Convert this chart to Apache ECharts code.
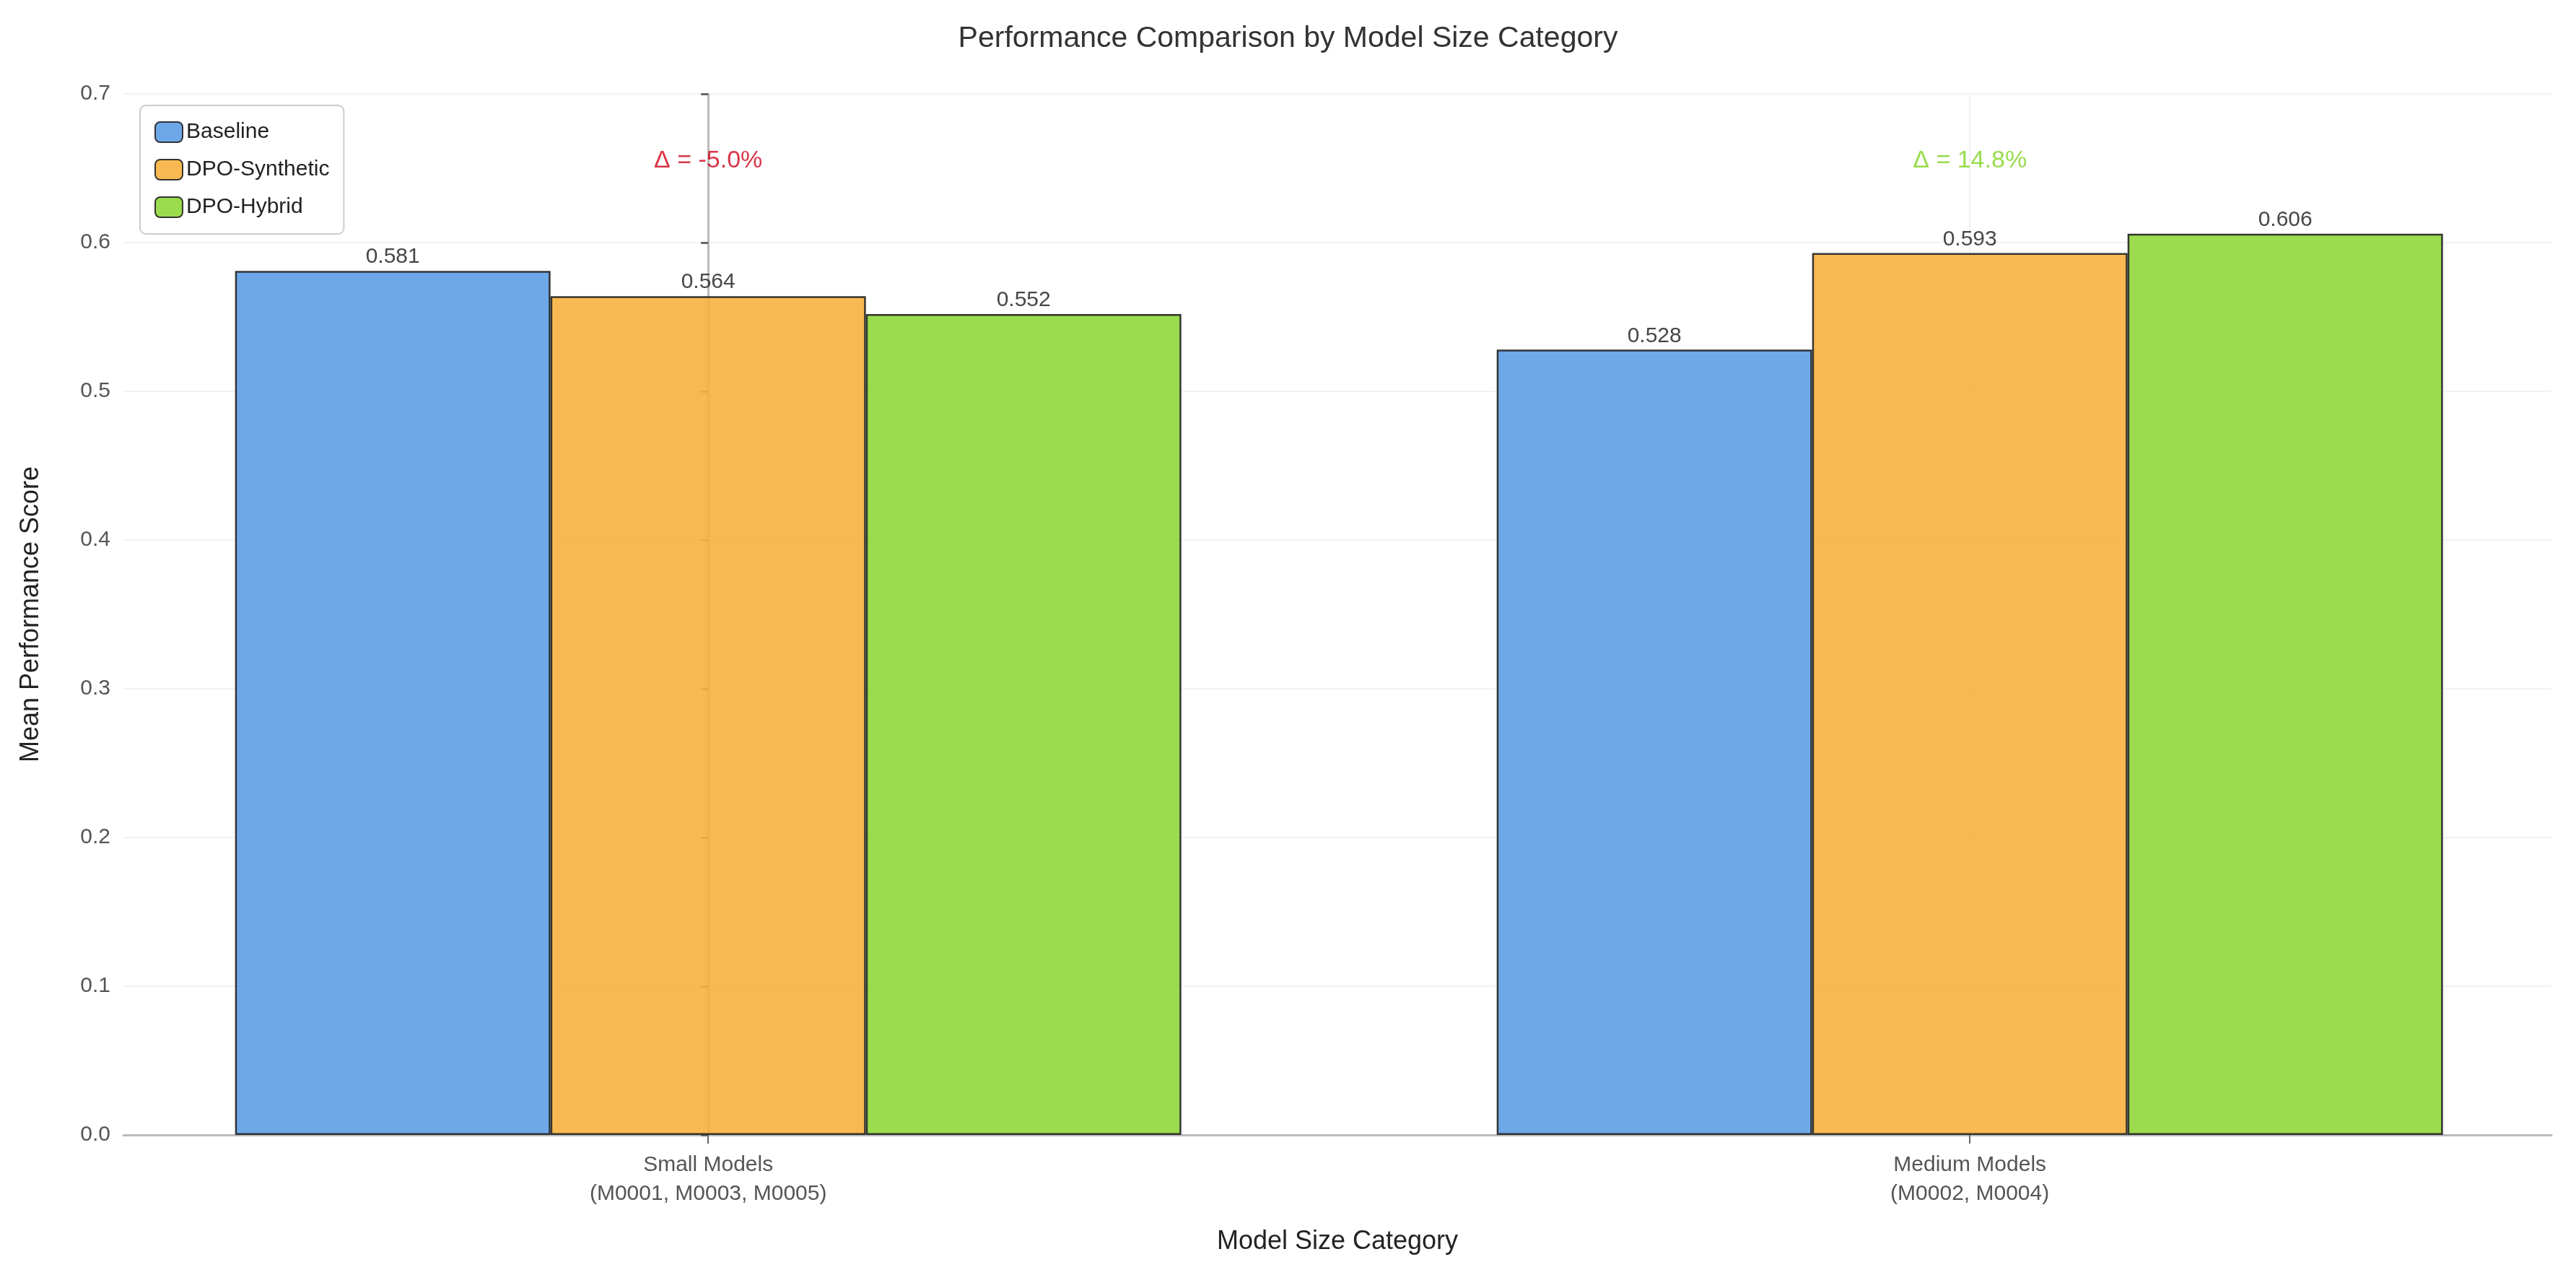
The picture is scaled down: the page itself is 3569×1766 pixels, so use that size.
<!DOCTYPE html>
<html>
<head>
<meta charset="utf-8">
<script src="https://cdn.jsdelivr.net/npm/echarts@6/dist/echarts.min.js"></script>
<style>html,body{margin:0;padding:0;background:#fff}#chart{width:3569px;height:1766px}</style>
</head>
<body>
<div id="chart"></div>
<script>
const categories = ['Small Models\n(M0001, M0003, M0005)', 'Medium Models\n(M0002, M0004)'];
const baseline = [0.581, 0.528];
const dpoSynthetic = [0.564, 0.593];
const dpoHybrid = [0.552, 0.606];
const deltas = ['Δ = -5.0%', 'Δ = 14.8%'];
const deltaColors = ['#d0021b', '#7ed321'];
const yTicks = [0, 0.1, 0.2, 0.3, 0.4, 0.5, 0.6, 0.7];

const font = 'Liberation Sans, Arial, sans-serif';
const chart = echarts.init(document.getElementById('chart'));

const barSeries = (name, vals, color) => ({
    name, type: 'bar', barWidth: 437, barGap: '0%',
    data: vals.map((v, i) => [i, v]),
    itemStyle: { color, opacity: 0.9, borderColor: '#222', borderWidth: 2.5 },
    label: { show: true, position: 'top', distance: 4, fontSize: 30, color: '#333', fontFamily: font,
        formatter: p => p.value[1].toFixed(3) },
});

chart.setOption({
    animation: false,
    title: { text: 'Performance Comparison by Model Size Category', left: 'center', top: 28,
        textStyle: { fontSize: 41, fontWeight: 'normal', color: '#333', fontFamily: font } },
    legend: {
        left: 194, top: 146, orient: 'vertical', itemWidth: 38, itemHeight: 28, itemGap: 22,
        padding: [22, 20, 22, 20], borderColor: '#ccc', borderWidth: 2, borderRadius: 8,
        textStyle: { fontSize: 30, color: '#222', fontFamily: font },
        data: ['Baseline', 'DPO-Synthetic', 'DPO-Hybrid'],
    },
    grid: { left: 171, right: 34, top: 130, bottom: 194 },
    xAxis: {
        type: 'value', min: -0.4635, max: 1.461,
        name: 'Model Size Category', nameLocation: 'middle', nameGap: 130,
        nameTextStyle: { fontSize: 36, color: '#222', fontFamily: font },
        axisLine: { lineStyle: { color: '#bbb', width: 3 } },
        axisTick: { show: true, customValues: [0, 1], length: 12, lineStyle: { color: '#666', width: 2 } },
        axisLabel: { customValues: [0, 1], formatter: v => categories[Math.round(v)] || '',
            fontSize: 30, color: '#555', lineHeight: 40, margin: 22, fontFamily: font },
        splitLine: { show: true, lineStyle: { color: '#f2f2f2', width: 2 } },
    },
    yAxis: {
        type: 'value', min: 0, max: 0.7, interval: 0.1,
        name: 'Mean Performance Score', nameLocation: 'middle', nameGap: 110,
        nameTextStyle: { fontSize: 36, color: '#222', fontFamily: font },
        axisLine: { show: true, lineStyle: { color: '#bbb', width: 3 } },
        axisTick: { show: true, length: 10, lineStyle: { color: '#666', width: 3 } },
        axisLabel: { fontSize: 30, color: '#555', margin: 18, fontFamily: font,
            formatter: v => (yTicks.includes(Math.round(v * 10) / 10) ? v.toFixed(1) : '') },
        splitLine: { lineStyle: { color: '#f2f2f2', width: 2 } },
    },
    series: [
        barSeries('Baseline', baseline, '#5f9ee5'),
        barSeries('DPO-Synthetic', dpoSynthetic, '#f7b13f'),
        barSeries('DPO-Hybrid', dpoHybrid, '#8fd83a'),
        {
            type: 'scatter', symbolSize: 0, silent: true,
            data: deltas.map((d, i) => ({ value: [i, 0.655], label: { color: deltaColors[i] } })),
            label: { show: true, position: 'inside', fontSize: 34, fontFamily: font,
                formatter: p => deltas[p.dataIndex] },
        },
    ],
});
</script>
</body>
</html>
